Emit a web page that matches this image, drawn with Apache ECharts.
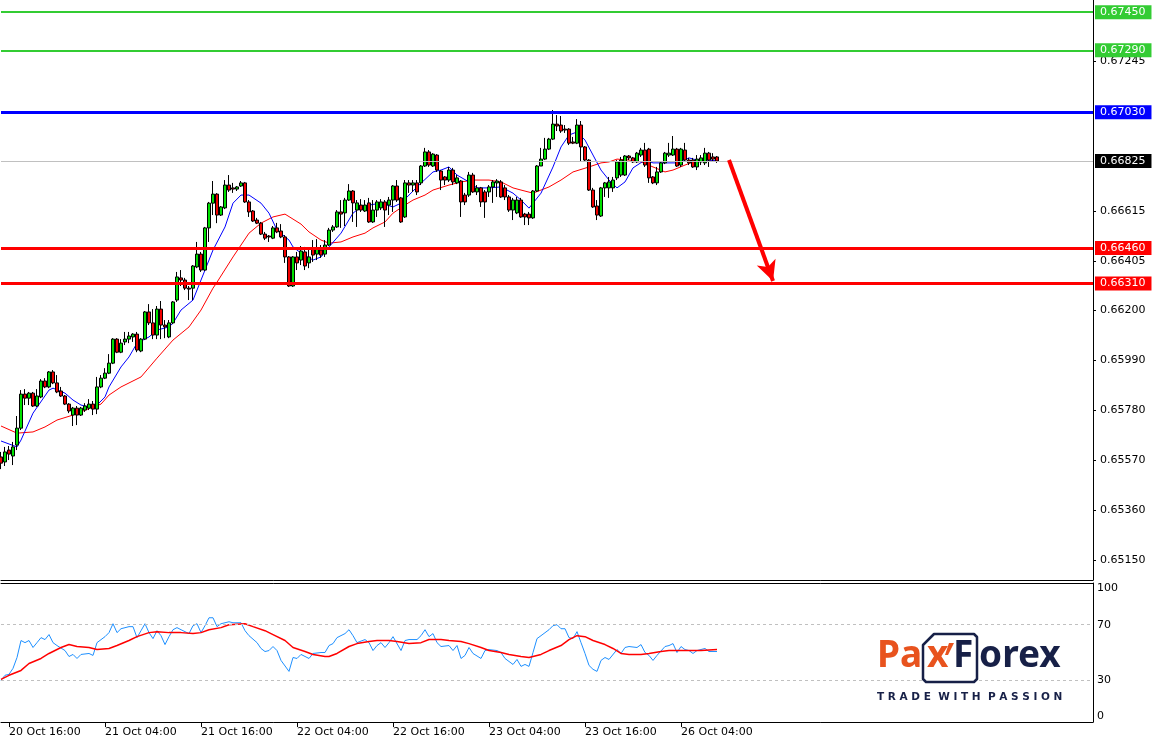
<!DOCTYPE html>
<html>
<head>
<meta charset="utf-8">
<script src="https://cdn.jsdelivr.net/npm/echarts@6/dist/echarts.min.js"></script>
<style>
html,body{margin:0;padding:0;background:#fff;}
#chart{width:1155px;height:744px;}
</style>
</head>
<body>
<div id="chart"></div>
<script>
// ---------- DATA (M30 bars) ----------
const opens = [
0.65582,0.65561,0.65611,0.65586,0.65632,0.65703,0.65846,0.65829,0.65850,0.65796,
0.65834,0.65901,0.65876,0.65939,0.65893,0.65859,0.65838,0.65804,0.65758,0.65787,
0.65758,0.65779,0.65787,0.65804,0.65783,0.65876,0.65913,0.65934,0.65976,0.66077,
0.66022,0.66065,0.66077,0.66086,0.66098,0.66027,0.66077,0.66191,0.66145,0.66094,
0.66203,0.66136,0.66086,0.66145,0.66241,0.66334,0.66325,0.66291,0.66291,0.66380,
0.66434,0.66367,0.66544,0.66648,0.66686,0.66598,0.66628,0.66724,0.66712,0.66707,
0.66720,0.66733,0.66653,0.66615,0.66577,0.66564,0.66518,0.66510,0.66501,0.66544,
0.66531,0.66506,0.66422,0.66300,0.66422,0.66409,0.66443,0.66397,0.66460,0.66434,
0.66451,0.66434,0.66472,0.66535,0.66548,0.66611,0.66607,0.66661,0.66699,0.66619,
0.66640,0.66615,0.66649,0.66569,0.66619,0.66628,0.66653,0.66640,0.66661,0.66720,
0.66670,0.66590,0.66733,0.66724,0.66733,0.66733,0.66804,0.66863,0.66804,0.66850,
0.66783,0.66758,0.66745,0.66787,0.66733,0.66741,0.66682,0.66682,0.66766,0.66695,
0.66712,0.66695,0.66695,0.66716,0.66733,0.66737,0.66712,0.66674,0.66619,0.66607,
0.66661,0.66602,0.66602,0.66586,0.66699,0.66804,0.66833,0.66875,0.66917,0.66980,
0.66976,0.66959,0.66959,0.66905,0.66900,0.66976,0.66884,0.66829,0.66703,0.66636,
0.66594,0.66712,0.66712,0.66712,0.66754,0.66766,0.66766,0.66846,0.66838,0.66821,
0.66850,0.66871,0.66875,0.66758,0.66733,0.66779,0.66817,0.66850,0.66850,0.66875,
0.66808,0.66871,0.66829,0.66829,0.66800,0.66821,0.66817,0.66858,0.66842,0.66842
];
const highs = [
0.65603,0.65624,0.65628,0.65645,0.65754,0.65863,0.65867,0.65855,0.65855,0.65867,
0.65909,0.65913,0.65943,0.65947,0.65926,0.65876,0.65842,0.65808,0.65792,0.65796,
0.65792,0.65808,0.65825,0.65817,0.65918,0.65926,0.65955,0.66014,0.66081,0.66081,
0.66077,0.66107,0.66107,0.66102,0.66107,0.66081,0.66195,0.66224,0.66203,0.66216,
0.66237,0.66157,0.66157,0.66237,0.66359,0.66367,0.66334,0.66300,0.66388,0.66485,
0.66443,0.66548,0.66653,0.66741,0.66690,0.66636,0.66745,0.66766,0.66733,0.66720,
0.66741,0.66737,0.66661,0.66619,0.66586,0.66569,0.66527,0.66514,0.66552,0.66565,
0.66560,0.66514,0.66426,0.66426,0.66443,0.66468,0.66464,0.66455,0.66493,0.66497,
0.66472,0.66493,0.66544,0.66556,0.66619,0.66661,0.66670,0.66728,0.66703,0.66661,
0.66665,0.66661,0.66670,0.66661,0.66661,0.66665,0.66661,0.66674,0.66724,0.66745,
0.66674,0.66745,0.66745,0.66745,0.66745,0.66808,0.66880,0.66871,0.66858,0.66854,
0.66787,0.66762,0.66800,0.66796,0.66766,0.66745,0.66691,0.66779,0.66775,0.66724,
0.66716,0.66703,0.66724,0.66745,0.66749,0.66745,0.66724,0.66682,0.66670,0.66674,
0.66670,0.66607,0.66611,0.66703,0.66808,0.66880,0.66922,0.66922,0.67039,0.67018,
0.67014,0.66976,0.66963,0.66926,0.67001,0.66993,0.66888,0.66833,0.66712,0.66661,
0.66716,0.66737,0.66758,0.66758,0.66829,0.66842,0.66850,0.66850,0.66842,0.66863,
0.66880,0.66901,0.66880,0.66762,0.66800,0.66821,0.66863,0.66901,0.66930,0.66880,
0.66880,0.66901,0.66838,0.66838,0.66850,0.66850,0.66880,0.66863,0.66858,0.66846
];
const lows = [
0.65531,0.65544,0.65569,0.65548,0.65611,0.65695,0.65800,0.65800,0.65792,0.65792,
0.65829,0.65871,0.65871,0.65888,0.65850,0.65834,0.65800,0.65766,0.65712,0.65716,
0.65754,0.65771,0.65779,0.65758,0.65762,0.65871,0.65909,0.65930,0.65972,0.66018,
0.66018,0.66052,0.66060,0.66065,0.66022,0.66022,0.66073,0.66136,0.66077,0.66077,
0.66077,0.66081,0.66081,0.66140,0.66233,0.66300,0.66283,0.66241,0.66241,0.66375,
0.66359,0.66363,0.66485,0.66598,0.66564,0.66594,0.66623,0.66695,0.66691,0.66699,
0.66716,0.66649,0.66590,0.66569,0.66560,0.66514,0.66493,0.66485,0.66497,0.66522,
0.66501,0.66397,0.66296,0.66296,0.66367,0.66388,0.66367,0.66375,0.66401,0.66409,
0.66418,0.66422,0.66468,0.66527,0.66544,0.66544,0.66552,0.66657,0.66569,0.66548,
0.66611,0.66611,0.66565,0.66565,0.66590,0.66619,0.66548,0.66598,0.66611,0.66653,
0.66565,0.66586,0.66691,0.66695,0.66682,0.66724,0.66800,0.66800,0.66800,0.66779,
0.66703,0.66724,0.66737,0.66724,0.66728,0.66590,0.66640,0.66674,0.66691,0.66682,
0.66632,0.66586,0.66674,0.66649,0.66674,0.66670,0.66661,0.66611,0.66577,0.66602,
0.66586,0.66556,0.66556,0.66582,0.66695,0.66804,0.66829,0.66871,0.66913,0.66951,
0.66943,0.66943,0.66892,0.66896,0.66896,0.66825,0.66825,0.66699,0.66628,0.66577,
0.66590,0.66674,0.66670,0.66695,0.66745,0.66758,0.66762,0.66829,0.66817,0.66817,
0.66842,0.66800,0.66733,0.66728,0.66724,0.66775,0.66812,0.66842,0.66846,0.66800,
0.66800,0.66821,0.66808,0.66796,0.66787,0.66808,0.66808,0.66800,0.66821,0.66817
];
const closes = [
0.65556,0.65603,0.65594,0.65624,0.65703,0.65846,0.65829,0.65850,0.65796,0.65838,
0.65901,0.65876,0.65939,0.65893,0.65855,0.65838,0.65804,0.65775,0.65787,0.65758,
0.65787,0.65796,0.65804,0.65783,0.65876,0.65913,0.65934,0.65976,0.66077,0.66022,
0.66060,0.66077,0.66090,0.66098,0.66031,0.66077,0.66191,0.66145,0.66094,0.66203,
0.66136,0.66128,0.66145,0.66233,0.66338,0.66325,0.66291,0.66287,0.66384,0.66434,
0.66367,0.66544,0.66648,0.66686,0.66598,0.66632,0.66724,0.66703,0.66707,0.66716,
0.66733,0.66653,0.66611,0.66573,0.66564,0.66518,0.66501,0.66506,0.66544,0.66527,
0.66506,0.66422,0.66300,0.66422,0.66397,0.66447,0.66384,0.66422,0.66430,0.66460,
0.66430,0.66472,0.66535,0.66548,0.66611,0.66602,0.66661,0.66699,0.66649,0.66649,
0.66619,0.66640,0.66569,0.66619,0.66653,0.66653,0.66619,0.66661,0.66720,0.66661,
0.66569,0.66733,0.66724,0.66733,0.66695,0.66804,0.66863,0.66808,0.66854,0.66787,
0.66745,0.66745,0.66787,0.66737,0.66754,0.66653,0.66653,0.66766,0.66695,0.66712,
0.66653,0.66653,0.66716,0.66737,0.66741,0.66674,0.66674,0.66619,0.66661,0.66661,
0.66590,0.66590,0.66586,0.66699,0.66804,0.66833,0.66875,0.66917,0.66980,0.66972,
0.66951,0.66955,0.66900,0.66900,0.66976,0.66884,0.66829,0.66703,0.66632,0.66598,
0.66712,0.66733,0.66737,0.66745,0.66821,0.66829,0.66846,0.66838,0.66821,0.66858,
0.66871,0.66808,0.66754,0.66733,0.66779,0.66817,0.66858,0.66858,0.66875,0.66804,
0.66875,0.66829,0.66817,0.66800,0.66833,0.66838,0.66858,0.66829,0.66833,0.66825
];
// Moving averages: [bar index, price]
const fastMA = [[0,0.65649],[4,0.65624],[5,0.65653],[8,0.65766],[12,0.65863],[13,0.65871],[16,0.65850],[18,0.65821],[20,0.65800],[22,0.65792],[24,0.65800],[26,0.65834],[27,0.65876],[30,0.65960],[32,0.66002],[34,0.66060],[37,0.66086],[39,0.66115],[42,0.66128],[43,0.66144],[45,0.66199],[48,0.66241],[50,0.66325],[53,0.66451],[56,0.66548],[58,0.66648],[60,0.66682],[62,0.66682],[65,0.66648],[67,0.66606],[69,0.66535],[72,0.66493],[73,0.66464],[75,0.66438],[78,0.66409],[80,0.66422],[82,0.66464],[85,0.66522],[88,0.66606],[90,0.66632],[92,0.66640],[95,0.66648],[98,0.66632],[100,0.66648],[102,0.66682],[105,0.66732],[108,0.66779],[110,0.66787],[112,0.66800],[114,0.66766],[117,0.66737],[119,0.66712],[122,0.66712],[125,0.66716],[128,0.66690],[130,0.66661],[132,0.66627],[135,0.66690],[138,0.66800],[140,0.66884],[142,0.66934],[144,0.66947],[146,0.66913],[148,0.66850],[150,0.66787],[152,0.66745],[154,0.66712],[156,0.66737],[158,0.66796],[161,0.66829],[163,0.66817],[166,0.66817],[169,0.66817],[172,0.66838],[174,0.66829],[177,0.66829],[179,0.66825]];
const slowMA = [[0,0.65712],[4,0.65682],[8,0.65687],[11,0.65708],[14,0.65737],[18,0.65758],[23,0.65792],[25,0.65804],[27,0.65842],[30,0.65876],[35,0.65918],[39,0.65997],[43,0.66073],[47,0.66128],[50,0.66199],[53,0.66291],[54,0.66316],[58,0.66422],[62,0.66522],[65,0.66564],[68,0.66590],[71,0.66602],[73,0.66581],[75,0.66560],[77,0.66527],[80,0.66493],[82,0.66480],[85,0.66485],[88,0.66506],[91,0.66522],[93,0.66544],[96,0.66569],[98,0.66606],[101,0.66640],[103,0.66661],[106,0.66682],[108,0.66703],[112,0.66724],[115,0.66737],[118,0.66745],[122,0.66745],[125,0.66737],[128,0.66712],[130,0.66703],[133,0.66690],[137,0.66716],[140,0.66745],[143,0.66779],[147,0.66800],[150,0.66817],[152,0.66821],[154,0.66833],[157,0.66829],[160,0.66821],[163,0.66800],[166,0.66779],[168,0.66787],[171,0.66808],[173,0.66821],[177,0.66825],[179,0.66829]];
// RSI panel: [bar index, value]
const rsiLine = [[0,30.0],[1,33.6],[2,34.3],[3,38.6],[4,46.4],[5,58.6],[6,57.1],[7,58.6],[8,53.6],[9,57.1],[10,60.7],[11,59.3],[12,62.9],[13,57.1],[14,55.0],[16,51.4],[17,47.1],[18,48.6],[19,45.7],[20,48.6],[22,49.3],[23,47.9],[24,57.1],[26,61.4],[27,64.3],[28,70.7],[29,64.3],[30,67.1],[32,68.6],[33,68.6],[34,60.7],[35,65.7],[36,70.7],[37,64.3],[38,60.0],[39,65.7],[40,62.1],[41,55.7],[42,61.4],[43,66.4],[44,67.9],[45,66.4],[47,63.6],[48,69.3],[49,70.7],[50,64.3],[51,69.3],[52,75.0],[53,75.0],[54,68.6],[55,70.7],[57,72.1],[58,71.4],[60,71.4],[61,65.7],[62,62.1],[64,57.1],[65,52.9],[66,50.7],[67,51.4],[68,54.3],[69,51.4],[70,44.3],[72,36.4],[73,46.4],[74,45.7],[75,48.6],[77,45.7],[78,49.3],[80,50.0],[81,50.0],[82,55.0],[83,56.4],[84,60.7],[86,63.6],[87,66.4],[88,62.1],[89,57.1],[91,59.3],[92,57.1],[93,51.4],[94,55.0],[95,57.1],[96,53.6],[97,57.1],[98,61.4],[100,51.4],[101,58.6],[102,59.3],[104,59.3],[105,62.1],[106,66.4],[107,61.4],[108,63.6],[109,57.1],[110,54.3],[112,55.0],[113,51.4],[114,55.0],[115,45.7],[116,47.9],[117,53.6],[118,49.3],[120,45.7],[121,51.4],[122,52.1],[124,51.4],[125,50.0],[126,45.7],[128,41.4],[129,45.0],[130,40.0],[131,41.4],[132,40.0],[133,50.0],[134,60.0],[135,62.1],[137,66.4],[138,69.3],[139,70.0],[140,67.1],[141,67.1],[142,60.7],[143,60.0],[144,65.0],[145,57.1],[146,49.3],[147,40.7],[148,37.9],[149,36.4],[150,44.3],[151,46.4],[152,45.0],[154,52.1],[155,49.3],[156,53.6],[157,54.3],[159,53.6],[160,55.7],[161,50.0],[162,47.9],[163,44.3],[164,47.9],[166,54.3],[167,55.0],[168,56.4],[169,50.0],[170,54.3],[171,52.1],[172,51.4],[173,49.3],[174,51.4],[176,52.9],[177,50.7],[179,50.7]];
const rsiSignal = [[0,30.7],[2,33.6],[5,37.1],[7,42.1],[10,45.7],[12,49.3],[15,53.6],[17,55.7],[19,54.3],[22,53.6],[24,52.1],[27,52.9],[29,55.0],[32,58.6],[34,61.4],[37,64.3],[39,65.0],[42,64.3],[45,64.3],[48,63.6],[50,64.3],[52,66.4],[55,67.9],[57,70.0],[61,70.7],[63,68.6],[66,65.7],[68,62.9],[71,58.6],[73,53.6],[76,50.7],[78,48.6],[81,47.1],[82,47.1],[84,49.3],[87,54.3],[89,56.4],[92,57.9],[94,58.6],[97,58.6],[99,57.9],[102,56.4],[105,57.1],[107,59.3],[110,59.3],[112,58.6],[115,57.9],[117,56.4],[120,53.6],[122,51.4],[125,50.0],[127,48.6],[130,47.1],[132,46.4],[135,48.6],[137,51.4],[140,55.0],[142,59.3],[144,62.1],[146,61.4],[148,58.6],[151,55.7],[153,52.9],[155,49.3],[157,48.6],[160,48.6],[162,49.3],[165,50.7],[167,51.4],[170,51.4],[172,51.4],[175,51.4],[179,52.1]];
const rsiLevels = [70, 30];
const rsiTicks = [0, 30, 70, 100];

const resistanceLevels = [0.67450, 0.67290];
const pivotLevels = [0.67030];
const supportLevels = [0.66460, 0.66310];
const priceTicks = [0.65150, 0.65360, 0.65570, 0.65780, 0.65990, 0.66200, 0.66405, 0.66615, 0.67245];
const priceMin = 0.650652, priceMax = 0.675012;
const timeTicks = ['20 Oct 16:00','21 Oct 04:00','21 Oct 16:00','22 Oct 04:00','22 Oct 16:00','23 Oct 04:00','23 Oct 16:00','26 Oct 04:00'];
// forecast arrow: [bar index, price]
const arrowFrom = [182, 0.66829];
const arrowTo = [193, 0.66321];

// ---------- category axis: M30 bar times (weekend skipped) ----------
const MONTHS = ['Jan','Feb','Mar','Apr','May','Jun','Jul','Aug','Sep','Oct','Nov','Dec'];
const pad = n => (n < 10 ? '0' : '') + n;
const times = [];
let t = Date.UTC(2020, 9, 20, 15, 0);
while (times.length < 274) {
  const d = new Date(t);
  const wd = d.getUTCDay();
  if (wd !== 0 && wd !== 6) {
    times.push(d.getUTCDate() + ' ' + MONTHS[d.getUTCMonth()] + ' ' + pad(d.getUTCHours()) + ':' + pad(d.getUTCMinutes()));
  }
  t += 30 * 60000;
}

const candleData = opens.map((o, i) => [o, closes[i], lows[i], highs[i]]);
const lastPrice = closes[closes.length - 1];

const FONT = 'DejaVu Sans';
const GREEN = '#33CC33', BLUE = '#0000FF', RED = '#FF0000';
function levelLine(v, color, width, boxColor) {
  return {
    yAxis: v,
    lineStyle: { color: color, width: width, type: 'solid' },
    label: {
      show: true, position: 'end', distance: 2,
      formatter: p => Number(p.value).toFixed(5),
      color: '#fff', backgroundColor: boxColor || color,
      padding: [2, 6, 1, 5], fontSize: 11, fontFamily: FONT, lineHeight: 11
    }
  };
}
const levelData = [];
levelData.push(levelLine(lastPrice, '#C0C0C0', 1, '#000'));
resistanceLevels.forEach(v => levelData.push(levelLine(v, GREEN, 2)));
pivotLevels.forEach(v => levelData.push(levelLine(v, BLUE, 3)));
supportLevels.forEach(v => levelData.push(levelLine(v, RED, 3)));
levelData.push([
  { coord: [times[arrowFrom[0]], arrowFrom[1]], symbol: 'none',
    lineStyle: { color: RED, width: 4, type: 'solid' }, label: { show: false } },
  { coord: [times[arrowTo[0]], arrowTo[1]], symbol: 'arrow', symbolSize: [15, 20],
    lineStyle: { color: RED, width: 4, type: 'solid' }, label: { show: false } }
]);

const tickFn = (idx, val) => timeTicks.indexOf(val) >= 0;

const chart = echarts.init(document.getElementById('chart'), null, { renderer: 'canvas' });
chart.setOption({
  animation: false,
  backgroundColor: '#fff',
  grid: [
    { left: 1, top: 0, width: 1092, height: 580 },
    { left: 1, top: 583, width: 1092, height: 139 }
  ],
  xAxis: [
    { gridIndex: 0, type: 'category', data: times, boundaryGap: false,
      axisLine: { show: true, onZero: false, lineStyle: { color: '#000', width: 1 } },
      axisTick: { show: false }, axisLabel: { show: false }, splitLine: { show: false } },
    { gridIndex: 1, type: 'category', data: times, boundaryGap: false,
      axisLine: { show: true, onZero: false, lineStyle: { color: '#000', width: 1 } },
      axisTick: { show: true, interval: tickFn, length: 5, lineStyle: { color: '#000' } },
      axisLabel: { show: true, interval: tickFn, align: 'left', margin: 5, fontSize: 11, fontFamily: FONT, color: '#000' },
      splitLine: { show: false } },
    { gridIndex: 1, type: 'category', position: 'top', data: times, boundaryGap: false,
      axisLine: { show: true, onZero: false, lineStyle: { color: '#000', width: 1 } },
      axisTick: { show: false }, axisLabel: { show: false }, splitLine: { show: false } }
  ],
  yAxis: [
    { gridIndex: 0, type: 'value', position: 'right', min: priceMin, max: priceMax, scale: true,
      axisLine: { show: true, lineStyle: { color: '#000', width: 1 } },
      axisTick: { show: true, customValues: priceTicks, length: 3, lineStyle: { color: '#000' } },
      axisLabel: { show: true, customValues: priceTicks, formatter: v => v.toFixed(5), margin: 7, fontSize: 11, fontFamily: FONT, color: '#000' },
      splitLine: { show: false } },
    { gridIndex: 1, type: 'value', position: 'right', min: 0, max: 100,
      axisLine: { show: true, lineStyle: { color: '#000', width: 1 } },
      axisTick: { show: false },
      axisLabel: { show: true, customValues: rsiTicks, margin: 4, fontSize: 11, fontFamily: FONT, color: '#000',
        verticalAlignMinLabel: 'bottom', verticalAlignMaxLabel: 'top', padding: 0 },
      splitLine: { show: false } }
  ],
  series: [
    { type: 'line', name: 'MA slow', xAxisIndex: 0, yAxisIndex: 0, data: slowMA, showSymbol: false, symbol: 'none',
      lineStyle: { color: RED, width: 1 }, z: 1 },
    { type: 'line', name: 'MA fast', xAxisIndex: 0, yAxisIndex: 0, data: fastMA, showSymbol: false, symbol: 'none',
      lineStyle: { color: BLUE, width: 1 }, z: 1 },
    { type: 'candlestick', name: 'Price', xAxisIndex: 0, yAxisIndex: 0, data: candleData, barWidth: 3, large: false,
      itemStyle: { color: '#00E000', color0: '#F00000', borderColor: '#000', borderColor0: '#000', borderWidth: 1 },
      z: 2,
      markLine: { silent: true, symbol: ['none', 'none'], animation: false, precision: 5, data: levelData }
    },
    { type: 'line', name: 'RSI', xAxisIndex: 1, yAxisIndex: 1, data: rsiLine, showSymbol: false, symbol: 'none',
      lineStyle: { color: '#1E90FF', width: 1 },
      markLine: { silent: true, symbol: ['none', 'none'], label: { show: false },
        lineStyle: { color: '#C0C0C0', type: [3, 3], width: 1 },
        data: rsiLevels.map(v => ({ yAxis: v })) } },
    { type: 'line', name: 'Signal', xAxisIndex: 1, yAxisIndex: 1, data: rsiSignal, showSymbol: false, symbol: 'none',
      lineStyle: { color: RED, width: 1.5 } }
  ],
  graphic: [
    { type: 'polygon', z: 100, shape: { points: [[934,634],[974,634],[977,637],[977,679],[974,682],[926,682],[923,679],[923,645]] },
      style: { fill: '#fff', stroke: '#172047', lineWidth: 2.5, lineJoin: 'round' } },
    { type: 'text', z: 101, x: 877, y: 656, style: { text: 'Pa', font: 'bold 37px "Noto Sans"', fill: '#E8531E', align: 'left', verticalAlign: 'middle' } },
    { type: 'text', z: 101, x: 927, y: 656, style: { text: 'x', font: 'bold 37px "Noto Sans"', fill: '#E8531E', align: 'left', verticalAlign: 'middle' } },
    { type: 'polygon', z: 101, shape: { points: [[949,643],[954,643],[948,655],[945,655]] }, style: { fill: '#E8531E' } },
    { type: 'text', z: 101, x: 953, y: 656, style: { text: 'F', font: 'bold 37px "Noto Sans"', fill: '#172047', align: 'left', verticalAlign: 'middle' } },
    { type: 'text', z: 101, x: 979, y: 656, style: { text: 'orex', font: 'bold 37px "Noto Sans"', fill: '#172047', align: 'left', verticalAlign: 'middle' } },
    { type: 'text', z: 101, x: 877, y: 697, style: { text: 'T R A D E  W I T H  P A S S I O N', font: 'bold 10.5px "DejaVu Sans"', fill: '#172047', align: 'left', verticalAlign: 'middle' } }
  ]
});
</script>
</body>
</html>
